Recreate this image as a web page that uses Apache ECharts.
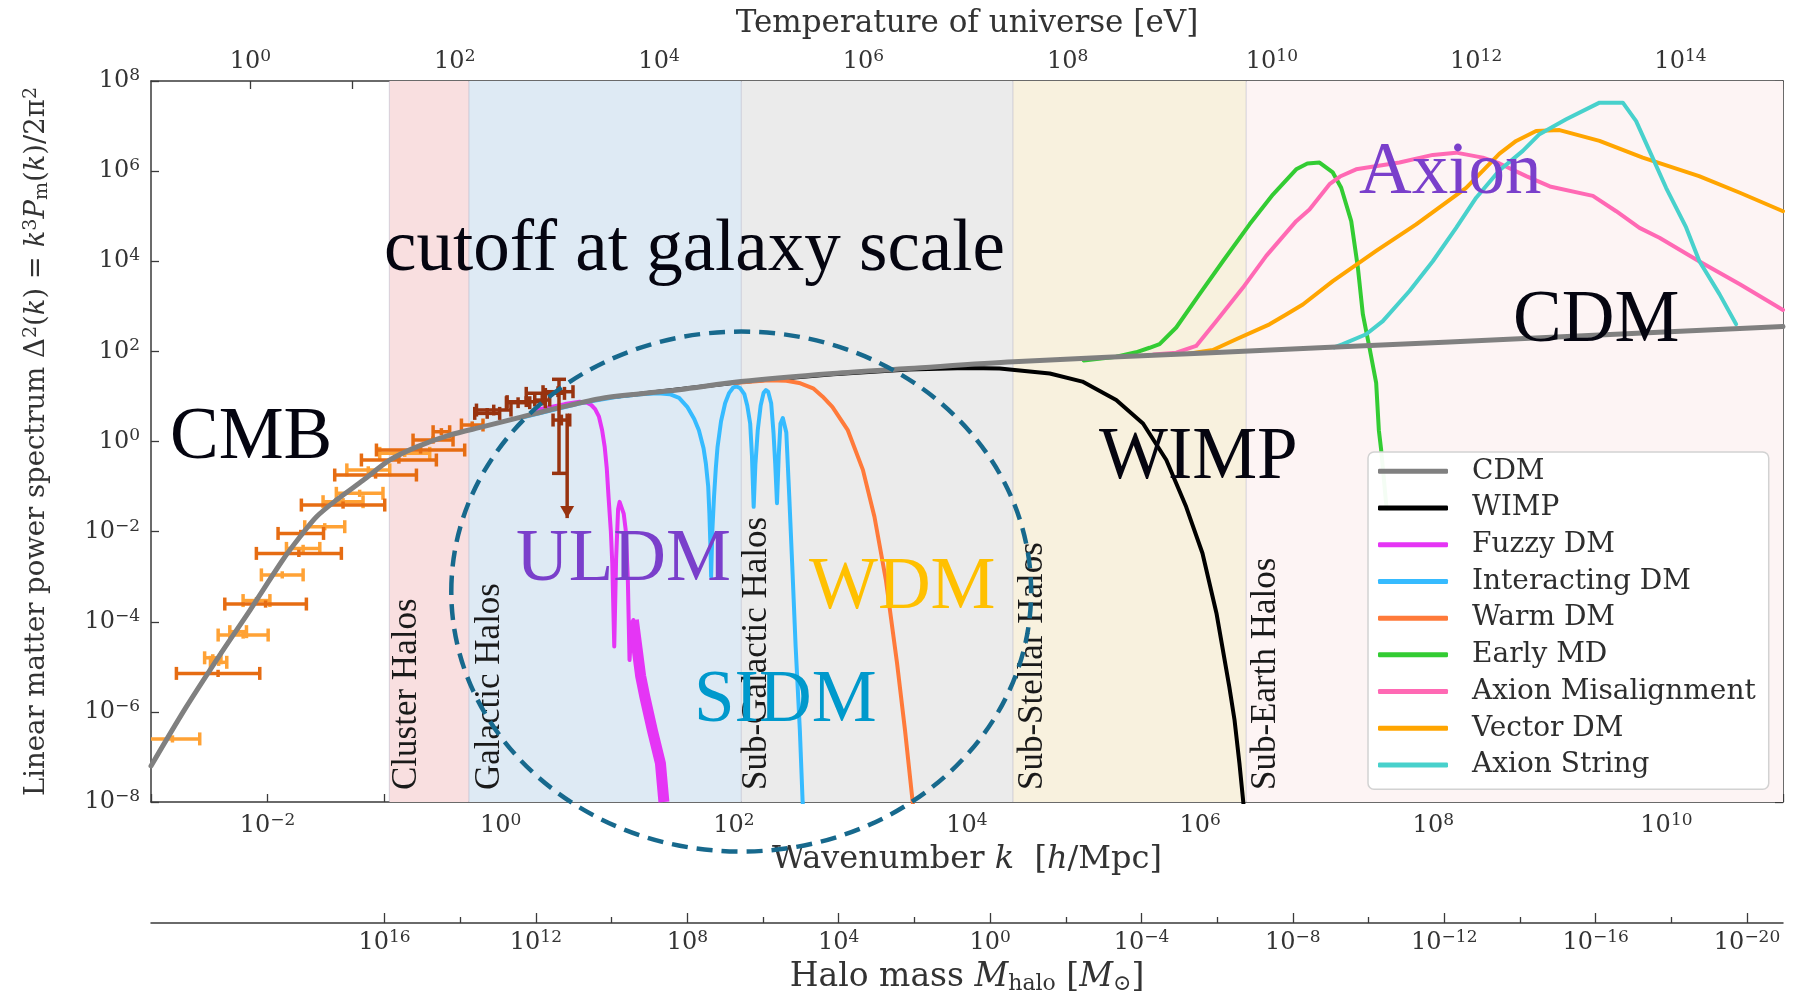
<!DOCTYPE html>
<html><head><meta charset="utf-8">
<script src="https://cdn.jsdelivr.net/npm/echarts@6/dist/echarts.min.js"></script>
<style>html,body{margin:0;padding:0;background:#fff;}#c{width:1800px;height:994px;}</style>
</head><body><div id="c"></div>
<script>
// ===== DATA (all values are log10 exponents) =====
// axis ranges / ticks
const kRange = [-3, 11];
const yRange = [-8, 8];
const tempRange = [-0.974, 15.004];
const haloRange = [-20.95, 22.17];
const tempTickExps = [0,1,2,3,4,5,6,7,8,9,10,11,12,13,14,15];
const tempLabelExps = [0,2,4,6,8,10,12,14];
const haloLabelExps = [16,12,8,4,0,-4,-8,-12,-16,-20];
const haloMinorExps = [14,10,6,2,-2,-6,-10,-14,-18];

// halo-scale bands: edges in log10 k
const bandEdges = [-0.955, -0.273, 2.064, 4.394, 6.395, 11];
const bandNames = ['Cluster Halos','Galactic Halos','Sub-Galactic Halos','Sub-Stellar Halos','Sub-Earth Halos'];

// curves: [log10 k, log10 Delta^2]
const cdm = [[-3.0,-7.2],[-2.7,-5.9],[-2.4,-4.7],[-2.15,-3.74],[-1.87,-2.63],[-1.72,-2.11],[-1.58,-1.67],[-1.41,-1.30],[-1.18,-0.86],[-0.95,-0.41],[-0.72,-0.12],[-0.44,0.14],[-0.15,0.33],[0.14,0.52],[0.42,0.70],[0.85,0.95],[1.2,1.06],[1.53,1.15],[2.06,1.33],[2.85,1.51],[3.5,1.62],[4.4,1.77],[6.0,1.96],[8.14,2.21],[11.0,2.55]];
const wimp = [[1.0,1.0],[2.06,1.32],[2.85,1.49],[3.5,1.60],[4.0,1.63],[4.28,1.62],[4.71,1.51],[4.99,1.33],[5.28,0.92],[5.51,0.40],[5.71,-0.41],[5.88,-1.45],[6.02,-2.48],[6.14,-3.81],[6.25,-5.44],[6.295,-6.18],[6.337,-7.14],[6.37,-8.0],[6.38,-8.3]];
const fuzzy = [[0.3,0.70],[0.55,0.83],[0.678,0.88],[0.74,0.86],[0.777,0.81],[0.81,0.72],[0.843,0.55],[0.87,0.25],[0.892,-0.12],[0.91,-0.6],[0.925,-1.23],[0.945,-2.0],[0.957,-2.70],[0.974,-4.55],[0.99,-2.6],[1.007,-1.5],[1.02,-1.34],[1.035,-1.36],[1.055,-1.6],[1.072,-1.96],[1.09,-3.0],[1.105,-4.85],[1.12,-4.2],[1.138,-3.96]];
const fuzzyTail = [[1.138,-3.96],[1.17,-4.6],[1.20,-5.2],[1.236,-5.66],[1.30,-6.4],[1.37,-7.14],[1.40,-8.0]];
const interacting = [[0.2,0.54],[0.7,0.86],[1.0,0.99],[1.2,1.05],[1.35,1.07],[1.45,1.05],[1.53,0.97],[1.6,0.77],[1.66,0.5],[1.70,0.25],[1.74,-0.15],[1.76,-0.49],[1.78,-1.0],[1.79,-1.59],[1.80,-2.4],[1.805,-3.0],[1.815,-2.0],[1.83,-1.22],[1.845,-0.6],[1.86,-0.12],[1.89,0.45],[1.925,0.85],[1.96,1.08],[1.995,1.2],[2.024,1.22],[2.055,1.18],[2.09,1.05],[2.115,0.8],[2.14,0.40],[2.155,-0.3],[2.17,-1.45],[2.185,-0.5],[2.205,0.25],[2.23,0.8],[2.255,1.08],[2.275,1.14],[2.295,1.1],[2.32,0.85],[2.34,0.2],[2.355,-0.5],[2.37,-1.37],[2.385,-0.3],[2.40,0.40],[2.42,0.52],[2.435,0.50],[2.45,0.2],[2.475,-1.2],[2.50,-2.7],[2.53,-4.55],[2.566,-6.40],[2.59,-8.0],[2.6,-8.3]];
const warm = [[2.0,1.30],[2.3,1.36],[2.45,1.35],[2.56,1.30],[2.68,1.18],[2.76,1.0],[2.845,0.77],[2.976,0.26],[3.107,-0.63],[3.206,-1.67],[3.304,-3.07],[3.40,-4.92],[3.468,-6.40],[3.534,-8.0],[3.55,-8.3]];
const earlyMD = [[5.0,1.80],[5.28,1.88],[5.45,1.98],[5.566,2.08],[5.652,2.16],[5.795,2.53],[5.995,3.27],[6.195,4.0],[6.424,4.82],[6.624,5.48],[6.824,6.04],[6.92,6.17],[7.024,6.19],[7.138,5.97],[7.21,5.63],[7.296,4.89],[7.353,3.86],[7.396,2.82],[7.453,2.08],[7.51,1.3],[7.533,0.25],[7.553,-0.19],[7.6,-1.5]];
const axionMis = [[5.6,1.93],[5.795,1.97],[5.966,2.12],[6.138,2.67],[6.366,3.41],[6.567,4.12],[6.824,4.89],[6.938,5.15],[7.11,5.71],[7.20,5.88],[7.338,6.04],[7.71,6.19],[7.996,6.36],[8.196,6.41],[8.425,6.30],[8.568,6.17],[8.797,5.89],[9.0,5.66],[9.369,5.45],[9.569,5.11],[9.769,4.74],[9.94,4.52],[10.28,4.0],[10.63,3.49],[11.0,2.92]];
const vectorDM = [[5.9,1.95],[6.109,2.03],[6.309,2.27],[6.595,2.6],[6.738,2.82],[6.881,3.04],[7.138,3.56],[7.51,4.23],[7.853,4.82],[8.282,5.63],[8.568,6.39],[8.711,6.67],[8.882,6.89],[9.083,6.91],[9.426,6.67],[9.797,6.30],[10.28,5.89],[10.63,5.52],[11.0,5.11]];
const axionString = [[7.15,2.09],[7.224,2.16],[7.424,2.38],[7.567,2.67],[7.796,3.34],[7.996,4.0],[8.196,4.74],[8.368,5.41],[8.568,6.02],[8.768,6.45],[8.911,6.82],[9.14,7.15],[9.426,7.52],[9.626,7.52],[9.74,7.11],[9.855,6.45],[9.997,5.63],[10.169,4.75],[10.283,4.0],[10.455,3.27],[10.598,2.6]];

// measurements: [log10 k low, log10 k high, log10 Delta^2]
const barsDark = [[-2.782,-2.067,-5.146],[-2.367,-1.667,-3.607],[-2.096,-1.367,-2.483],[-1.91,-1.52,-2.04],[-1.71,-0.995,-1.41],[-1.424,-0.723,-0.744],[-1.195,-0.552,-0.411],[-1.066,-0.309,-0.189],[-0.752,-0.409,0.032],[-0.58,-0.438,0.217],[-0.337,-0.152,0.366]];
const barsLight = [[-3.05,-2.582,-6.60],[-2.54,-2.40,-4.80],[-2.49,-2.35,-4.90],[-2.424,-1.995,-4.295],[-2.324,-2.181,-4.22],[-2.21,-1.98,-3.53],[-2.053,-1.695,-2.96],[-1.838,-1.552,-2.372],[-1.681,-1.338,-1.891],[-1.524,-1.181,-1.336],[-1.41,-1.01,-1.15],[-1.32,-0.952,-0.63],[-1.038,-0.609,-0.263]];
const barsBrown = [[-0.223,-0.009,0.624],[-0.208,0.088,0.698],[0.049,0.249,0.861],[0.055,0.383,0.884],[0.219,0.547,1.068],[0.292,0.42,0.92],[0.363,0.62,1.105],[0.449,0.592,0.476]];
// vertical limits: [log10 k, top, bottom, arrow(1)/caps(0)]
const brownLimits = [[0.50,1.38,-0.707,0],[0.57,0.62,-1.70,1]];

// ===== STYLE =====
const AX = '#3a3a3a';
const TXT = '#333';
const CM = 'DejaVu Serif';
const TIMES = 'Liberation Serif';
const richTick = {
  b:{fontFamily:CM, fontSize:24, color:TXT, lineHeight:28},
  s:{fontFamily:CM, fontSize:17, color:TXT, verticalAlign:'top', lineHeight:8}
};
function pow10(v){ const e = Math.round(v); const s = e < 0 ? '\u2212' + (-e) : '' + e; return '{b|10}{s|' + s + '}'; }
function nameStyle(size){
  return {fontFamily:CM, fontSize:size, color:TXT, lineHeight:size + 2,
    rich:{ i:{fontFamily:CM, fontSize:size, fontStyle:'italic', color:TXT},
           sb:{fontFamily:CM, fontSize:Math.round(size*0.66), color:TXT, verticalAlign:'bottom', lineHeight:6} }};
}

const chart = echarts.init(document.getElementById('c'), null, {width:1800, height:994});

function lineSeries(name, data, color, width, z, cap){
  return {type:'line', name:name, data:data, xAxisIndex:0, yAxisIndex:0, symbol:'none', showSymbol:false,
    color:color, lineStyle:{color:color, width:width, cap:cap || 'round', join:'round'}, itemStyle:{color:color},
    z:z, silent:true, animation:false, clip:true};
}
function barRender(color, dy){
  return function(params, api){
    const x1 = api.value(0), x2 = api.value(1), y = api.value(2);
    const p1 = api.coord([x1, y]), p2 = api.coord([x2, y]);
    const xm = (x1 + x2) / 2;
    const pt = api.coord([xm, y + dy]), pb = api.coord([xm, y - dy]);
    const cap = 6.5, st = {stroke:color, lineWidth:3.5};
    return {type:'group', children:[
      {type:'line', shape:{x1:p1[0], y1:p1[1], x2:p2[0], y2:p2[1]}, style:st},
      {type:'line', shape:{x1:p1[0], y1:p1[1]-cap, x2:p1[0], y2:p1[1]+cap}, style:st},
      {type:'line', shape:{x1:p2[0], y1:p2[1]-cap, x2:p2[0], y2:p2[1]+cap}, style:st},
      {type:'line', shape:{x1:pt[0], y1:pt[1], x2:pb[0], y2:pb[1]}, style:st}
    ]};
  };
}
function barSeries(data, color, dy, z){
  return {type:'custom', data:data, xAxisIndex:0, yAxisIndex:0, renderItem:barRender(color, dy),
    encode:{x:[0,1], y:2}, z:z, silent:true, clip:true, animation:false};
}
const BROWN = '#98330f';
const bandColors = ['#f9dfe0','#deeaf4','#ebebeb','#f8f1de','#fdf4f4'];
const bandData = bandEdges.slice(0, -1).map((e, i) => [e, bandEdges[i+1], i]);

const option = {
  animation:false,
  backgroundColor:'#ffffff',
  grid:{left:151, top:81, width:1632, height:721, containLabel:false, outerBoundsMode:'none'},
  xAxis:[
    {type:'value', position:'bottom', min:kRange[0], max:kRange[1], interval:1,
     axisLine:{show:true, onZero:false, lineStyle:{color:AX, width:1.5}},
     axisTick:{show:true, inside:true, length:8, lineStyle:{color:AX, width:1.3}},
     axisLabel:{show:true, margin:10, showMinLabel:true, showMaxLabel:true,
       formatter:function(v){ return Math.round(v) % 2 === 0 ? pow10(v) : ''; }, rich:richTick},
     splitLine:{show:false},
     name:'Wavenumber {i|k}  [{i|h}/Mpc]', nameLocation:'middle', nameGap:36, nameTextStyle:nameStyle(32)},
    {type:'value', position:'top', min:tempRange[0], max:tempRange[1],
     axisLine:{show:true, onZero:false, lineStyle:{color:AX, width:1.5}},
     axisTick:{show:true, inside:true, length:8, customValues:tempTickExps, lineStyle:{color:AX, width:1.3}},
     axisLabel:{show:true, margin:5, customValues:tempLabelExps, formatter:pow10, rich:richTick},
     splitLine:{show:false},
     name:'Temperature of universe [eV]', nameLocation:'middle', nameGap:41, nameTextStyle:nameStyle(31)},
    {type:'value', position:'bottom', offset:121, min:haloRange[0], max:haloRange[1], inverse:true,
     axisLine:{show:true, onZero:false, lineStyle:{color:AX, width:1.5}},
     axisTick:{show:true, inside:true, length:10, customValues:haloLabelExps, lineStyle:{color:AX, width:1.3}},
     axisLabel:{show:true, margin:6, customValues:haloLabelExps, formatter:pow10, rich:richTick},
     splitLine:{show:false},
     name:'Halo mass {i|M}{sb|halo} [{i|M}{sb|\u2299}]', nameLocation:'middle', nameGap:31, nameTextStyle:nameStyle(33)},
    {type:'value', position:'bottom', offset:121, min:haloRange[0], max:haloRange[1], inverse:true,
     axisLine:{show:false, onZero:false},
     axisTick:{show:true, inside:true, length:6, customValues:haloMinorExps, lineStyle:{color:AX, width:1.3}},
     axisLabel:{show:false}, splitLine:{show:false}}
  ],
  yAxis:[
    {type:'value', position:'left', min:yRange[0], max:yRange[1], interval:2,
     axisLine:{show:true, onZero:false, lineStyle:{color:AX, width:1.5}},
     axisTick:{show:true, inside:true, length:8, lineStyle:{color:AX, width:1.3}},
     axisLabel:{show:true, margin:11, showMinLabel:true, showMaxLabel:true, formatter:pow10, rich:richTick},
     splitLine:{show:false},
     name:'Linear matter power spectrum \u0394{sp|2}({i|k}) = {i|k}{sp|3}{i|P}{sb|m}({i|k})/2\u03c0{sp|2}',
     nameLocation:'middle', nameGap:99,
     nameTextStyle:{fontFamily:CM, fontSize:27.5, color:TXT, lineHeight:30,
       rich:{ i:{fontFamily:CM, fontSize:27.5, fontStyle:'italic', color:TXT},
              sp:{fontFamily:CM, fontSize:19, color:TXT, verticalAlign:'top', lineHeight:6},
              sb:{fontFamily:CM, fontSize:19, color:TXT, verticalAlign:'bottom', lineHeight:6} }}},
    {type:'value', position:'right', min:yRange[0], max:yRange[1], interval:2,
     axisLine:{show:true, onZero:false, lineStyle:{color:AX, width:1.5}},
     axisTick:{show:true, inside:true, length:8, lineStyle:{color:AX, width:1.3}},
     axisLabel:{show:false}, splitLine:{show:false}}
  ],
  legend:{
    data:['CDM','WIMP','Fuzzy DM','Interacting DM','Warm DM','Early MD','Axion Misalignment','Vector DM','Axion String'],
    orient:'vertical', left:1368, top:452, itemWidth:70, itemHeight:5, itemGap:0, icon:'roundRect',
    padding:[1, 13, 6, 10], backgroundColor:'rgba(255,255,255,0.95)', borderColor:'#d2d2d2', borderWidth:1.5, borderRadius:6,
    textStyle:{fontFamily:CM, fontSize:28, color:'#2e2e2e', lineHeight:36.7, padding:[0,0,0,19]},
    selectedMode:false, z:20
  },
  series:[
    {type:'custom', data:bandData, xAxisIndex:0, yAxisIndex:0, z:1, silent:true, animation:false,
     encode:{x:[0,1]},
     renderItem:function(params, api){
       const a = api.coord([api.value(0), yRange[1]]), b = api.coord([api.value(1), yRange[0]]);
       const c = bandColors[api.value(2)];
       return {type:'group', children:[
         {type:'rect', shape:{x:a[0], y:a[1], width:b[0]-a[0], height:b[1]-a[1]}, style:{fill:c}},
         {type:'line', shape:{x1:a[0], y1:a[1], x2:a[0], y2:b[1]}, style:{stroke:'rgba(160,160,185,0.35)', lineWidth:1.2}}
       ]};
     }},
    barSeries(barsLight, '#ffa235', 0.08, 2),
    barSeries(barsDark, '#e66c12', 0.08, 2),
    lineSeries('WIMP', wimp, '#000000', 4, 3),
    lineSeries('Fuzzy DM', fuzzy, '#e535f5', 4, 3),
    lineSeries('Fuzzy DM', fuzzyTail, '#e535f5', 11, 3, 'butt'),
    lineSeries('Interacting DM', interacting, '#36bbff', 4, 3),
    lineSeries('Warm DM', warm, '#ff7a3a', 4, 3),
    lineSeries('Early MD', earlyMD, '#33cc33', 4, 3),
    lineSeries('Axion Misalignment', axionMis, '#ff69b4', 4, 3),
    lineSeries('Vector DM', vectorDM, '#ffa500', 4, 3),
    lineSeries('Axion String', axionString, '#48d1cc', 4, 3),
    Object.assign(lineSeries('CDM', cdm, '#808080', 5, 4), {smooth:0.3}),
    barSeries(barsBrown, BROWN, 0.12, 5),
    {type:'custom', data:brownLimits, xAxisIndex:0, yAxisIndex:0, z:5, silent:true, animation:false,
     encode:{x:0, y:[1,2]},
     renderItem:function(params, api){
       const t = api.coord([api.value(0), api.value(1)]), b = api.coord([api.value(0), api.value(2)]);
       const st = {stroke:BROWN, lineWidth:3.5};
       const ch = [{type:'line', shape:{x1:t[0], y1:t[1], x2:b[0], y2:b[1]}, style:st}];
       if (api.value(3) === 1) {
         ch.push({type:'polygon', shape:{points:[[b[0]-7, b[1]-12],[b[0]+7, b[1]-12],[b[0], b[1]]]}, style:{fill:BROWN}});
       } else {
         ch.push({type:'line', shape:{x1:t[0]-7, y1:t[1], x2:t[0]+7, y2:t[1]}, style:st});
         ch.push({type:'line', shape:{x1:b[0]-7, y1:b[1], x2:b[0]+7, y2:b[1]}, style:st});
       }
       return {type:'group', children:ch};
     }}
  ]
};
chart.setOption(option);

// ===== annotations =====
const toPx = p => chart.convertToPixel({xAxisIndex:0, yAxisIndex:0}, p);
const ellCenter = [2.063, -3.33], ellRadius = [2.487, 5.77];
const c0 = toPx(ellCenter), cx1 = toPx([ellCenter[0] + ellRadius[0], ellCenter[1]]), cy1 = toPx([ellCenter[0], ellCenter[1] + ellRadius[1]]);
const graphics = [];
graphics.push({type:'ellipse', z:50, silent:true,
  shape:{cx:c0[0], cy:c0[1], rx:Math.abs(cx1[0]-c0[0]), ry:Math.abs(c0[1]-cy1[1])},
  style:{fill:'none', stroke:'#17698d', lineWidth:4.5, lineDash:[16, 9]}});

const bandLabelShift = [0, 3, -2, 2, 2];
bandNames.forEach((n, i) => {
  const p = toPx([bandEdges[i], yRange[0]]);
  graphics.push({type:'text', z:45, silent:true, x:p[0] + bandLabelShift[i], y:p[1] - 12, rotation:Math.PI/2,
    style:{text:n, fontFamily:TIMES, fontSize:35, fill:'#1a1a1a', align:'left', verticalAlign:'top'}});
});

const bigLabels = [
  {t:'cutoff at galaxy scale', x:384, y:251, c:'#050510'},
  {t:'CMB', x:170, y:439, c:'#050510'},
  {t:'CDM', x:1513, y:322, c:'#050510'},
  {t:'WIMP', x:1099, y:459, c:'#050510'},
  {t:'Axion', x:1359, y:174, c:'#7a3fcb'},
  {t:'ULDM', x:516, y:561, c:'#7a3fcb'},
  {t:'WDM', x:809, y:589, c:'#ffc000'},
  {t:'SIDM', x:694, y:702, c:'#0099cc'}
];
bigLabels.forEach(l => {
  graphics.push({type:'text', z:60, silent:true, x:l.x, y:l.y,
    style:{text:l.t, fontFamily:TIMES, fontSize:73, fill:l.c, align:'left', verticalAlign:'middle'}});
});
chart.setOption({graphic:graphics});
</script>
</body></html>
